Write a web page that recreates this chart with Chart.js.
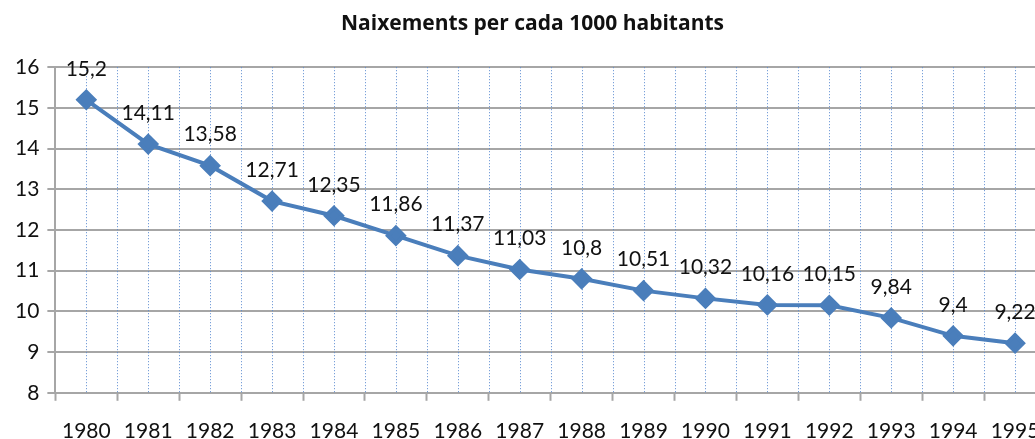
<!DOCTYPE html>
<html>
<head>
<meta charset="utf-8">
<script src="https://cdn.jsdelivr.net/npm/chart.js@4"></script>
<style>
  html, body { margin: 0; padding: 0; background: #fff; overflow: hidden; }
  canvas { display: block; }
</style>
</head>
<body>
<canvas id="chart" width="1058" height="439"></canvas>
<script>
const years = ['1980', '1981', '1982', '1983', '1984', '1985', '1986', '1987', '1988', '1989', '1990', '1991', '1992', '1993', '1994', '1995'];
const births = [15.2, 14.11, 13.58, 12.71, 12.35, 11.86, 11.37, 11.03, 10.8, 10.51, 10.32, 10.16, 10.15, 9.84, 9.4, 9.22];
const yMin = 8;
const yMax = 16;

const blue = '#4a7ebb';
const gray = '#a6a6a6';
const dotted = '#5b8bd0';

// linies puntejades verticals: al centre i entre categories
const dottedLines = {
    id: 'dottedLines',
    beforeDatasetsDraw(chart) {
        const ctx = chart.ctx;
        const area = chart.chartArea;
        const x = chart.scales.x;
        const half = (x.getPixelForValue(1) - x.getPixelForValue(0)) / 2;
        ctx.save();
        ctx.strokeStyle = dotted;
        ctx.lineWidth = 1;
        ctx.setLineDash([1, 2]);
        const line = (p) => {
            const px = Math.round(p) + 0.5;
            ctx.beginPath();
            ctx.moveTo(px, area.top);
            ctx.lineTo(px, area.bottom);
            ctx.stroke();
        };
        years.forEach((y, i) => {
            const c = x.getPixelForValue(i);
            line(c);
            if (i > 0) line(c - half);
        });
        ctx.restore();
    }
};

// etiquetes de valor sobre cada punt
const valueLabels = {
    id: 'valueLabels',
    afterDatasetsDraw(chart) {
        const ctx = chart.ctx;
        const meta = chart.getDatasetMeta(0);
        ctx.save();
        ctx.font = '21px Lato, "Open Sans", sans-serif';
        ctx.fillStyle = '#111';
        ctx.textAlign = 'center';
        ctx.textBaseline = 'middle';
        meta.data.forEach((pt, i) => {
            const txt = String(births[i]).replace('.', ',');
            ctx.fillText(txt, pt.x, pt.y - 31);
        });
        ctx.restore();
    }
};

new Chart(document.querySelector('#chart'), {
    type: 'line',
    data: {
        labels: years,
        datasets: [{
            data: births,
            borderColor: blue,
            backgroundColor: blue,
            borderWidth: 4,
            pointStyle: 'rectRot',
            pointRadius: 8,
            pointHoverRadius: 8,
            tension: 0
        }]
    },
    options: {
        responsive: false,
        animation: false,
        layout: { padding: { left: 7, right: 0, top: 0, bottom: -23 } },
        plugins: {
            legend: { display: false },
            tooltip: { enabled: false },
            title: {
                display: true,
                text: 'Naixements per cada 1000 habitants',
                color: '#111',
                font: { family: '"Open Sans", Lato, sans-serif', size: 21, weight: 'bold' },
                padding: { top: 11, bottom: 31 }
            }
        },
        scales: {
            x: {
                type: 'category',
                offset: true,
                border: { display: true, color: gray, width: 2 },
                grid: {
                    offset: true,
                    color: 'rgba(0,0,0,0)',
                    drawTicks: true,
                    tickLength: 8,
                    tickColor: gray,
                    tickWidth: 2
                },
                ticks: {
                    color: '#111',
                    padding: 18,
                    maxRotation: 0,
                    autoSkip: false,
                    font: { family: 'Lato, "Open Sans", sans-serif', size: 21 }
                }
            },
            y: {
                min: yMin,
                max: yMax,
                border: { display: true, color: gray, width: 2 },
                grid: {
                    color: gray,
                    lineWidth: 2,
                    tickLength: 8,
                    tickColor: gray
                },
                ticks: {
                    stepSize: 1,
                    color: '#111',
                    padding: 8,
                    font: { family: 'Lato, "Open Sans", sans-serif', size: 21 }
                }
            }
        }
    },
    plugins: [dottedLines, valueLabels]
});
</script>
</body>
</html>
